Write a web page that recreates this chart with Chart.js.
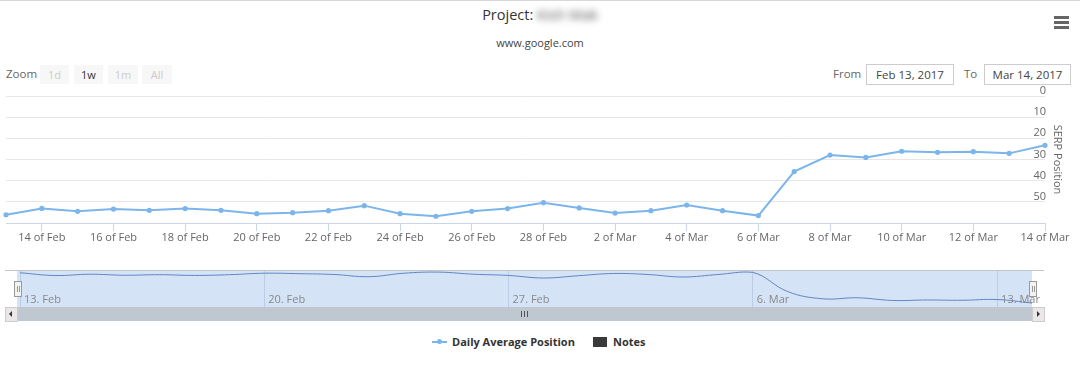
<!DOCTYPE html>
<html>
<head>
<meta charset="utf-8">
<script src="https://cdn.jsdelivr.net/npm/chart.js@4.4.0/dist/chart.umd.min.js"></script>
<style>
  body { margin: 0; width: 1080px; height: 370px; background: #fff; position: relative; overflow: hidden;
         font-family: "Open Sans", sans-serif; color: #333; }
  .abs { position: absolute; }
  #topline { left: 0; top: 0; width: 1080px; height: 1px; background: #d8d8d8; }
  #title { left: 0; width: 1080px; top: 5px; text-align: center; font-size: 14.5px; line-height: 20px; color: #333; }
  #title .blur { filter: blur(3.5px); color: #555; }
  #subtitle { left: 0; width: 1080px; top: 35px; text-align: center; font-size: 11px; line-height: 16px; color: #444; }
  #menu span { position: absolute; left: 1054px; width: 15px; height: 3px; background: #666; }
  .lbl { font-size: 11.5px; line-height: 20px; color: #666; top: 64px; }
  .btn { top: 65px; height: 19px; line-height: 19px; background: #f7f7f7; text-align: center; font-size: 11px; color: #ccc; }
  .inp { top: 64px; height: 19px; line-height: 19px; border: 1px solid #ccc; text-align: center; font-size: 11.5px; color: #444; }
  #navBg { left: 17px; top: 271px; width: 1015px; height: 36px; background: #d5e3f6; }
  #navOutline { left: 5px; top: 270px; width: 1039px; height: 1px; background: #c4c4c4; }
  .handle { top: 281px; width: 6px; height: 14px; background: #f2f2f2; border: 1px solid #999; }
  .handle i { position: absolute; top: 4px; width: 1px; height: 6px; background: #999; }
  #track { left: 5px; top: 307px; width: 1039px; height: 14px; background: #f2f2f2; }
  #thumb { left: 17px; top: 307px; width: 1015px; height: 14px; background: #bfc8d1; }
  .grip { top: 311px; width: 1px; height: 6px; background: #555; }
  .sbtn { top: 307px; width: 11px; height: 13px; background: #ebe7e8; border: 1px solid #ccc; }
  .legend-text { top: 334px; font-size: 11px; font-weight: bold; line-height: 16px; color: #333; }
</style>
</head>
<body>
<div id="topline" class="abs"></div>
<div id="title" class="abs">Project: <span class="blur">Kish Mak</span></div>
<div id="subtitle" class="abs">www.google.com</div>
<div id="menu">
  <span style="top:16px"></span><span style="top:21px"></span><span style="top:26px"></span>
</div>

<div class="abs lbl" style="left:6px">Zoom</div>
<div class="abs btn" style="left:40px;width:29px">1d</div>
<div class="abs btn" style="left:74px;width:29px;color:#333">1w</div>
<div class="abs btn" style="left:108px;width:30px">1m</div>
<div class="abs btn" style="left:142px;width:30px">All</div>

<div class="abs lbl" style="left:833px">From</div>
<div class="abs inp" style="left:866px;width:86px">Feb 13, 2017</div>
<div class="abs lbl" style="left:964px">To</div>
<div class="abs inp" style="left:984px;width:85px">Mar 14, 2017</div>

<canvas id="mainChart" class="abs" style="left:0;top:80px" width="1080" height="170"></canvas>

<div id="navBg" class="abs"></div>
<div id="navOutline" class="abs"></div>
<canvas id="navChart" class="abs" style="left:0;top:271px" width="1080" height="36"></canvas>
<div class="abs handle" style="left:14px"><i style="left:2px"></i><i style="left:4px"></i></div>
<div class="abs handle" style="left:1029px"><i style="left:2px"></i><i style="left:4px"></i></div>

<div id="track" class="abs"></div>
<div id="thumb" class="abs"></div>
<div class="abs grip" style="left:521px"></div>
<div class="abs grip" style="left:524px"></div>
<div class="abs grip" style="left:527px"></div>
<div class="abs sbtn" style="left:5px"></div>
<div class="abs sbtn" style="left:1032px"></div>
<div class="abs" style="left:9px;top:311px;width:0;height:0;border-top:3px solid transparent;border-bottom:3px solid transparent;border-right:3px solid #333"></div>
<div class="abs" style="left:1037px;top:311px;width:0;height:0;border-top:3px solid transparent;border-bottom:3px solid transparent;border-left:3px solid #333"></div>

<div class="abs" style="left:432px;top:341px;width:15px;height:2px;background:#7cb5ec"></div>
<div class="abs" style="left:437px;top:339px;width:5px;height:5px;border-radius:50%;background:#7cb5ec"></div>
<div class="abs legend-text" style="left:452px">Daily Average Position</div>
<div class="abs" style="left:593px;top:337px;width:14px;height:10px;background:#3a3a3a"></div>
<div class="abs legend-text" style="left:613px">Notes</div>

<script>
// days shown on the chart
const dates = [
  "13 Feb", "14 Feb", "15 Feb", "16 Feb", "17 Feb", "18 Feb", "19 Feb", "20 Feb",
  "21 Feb", "22 Feb", "23 Feb", "24 Feb", "25 Feb", "26 Feb", "27 Feb", "28 Feb",
  "1 Mar", "2 Mar", "3 Mar", "4 Mar", "5 Mar", "6 Mar", "7 Mar", "8 Mar",
  "9 Mar", "10 Mar", "11 Mar", "12 Mar", "13 Mar", "14 Mar"
];

// daily average SERP position
const positions = [
  56.1, 53.1, 54.5, 53.4, 54.0, 53.2, 54.0, 55.6,
  55.1, 54.2, 51.8, 55.6, 56.8, 54.5, 53.2, 50.4,
  52.9, 55.3, 54.2, 51.5, 54.2, 56.5, 35.7, 27.9,
  29.0, 26.1, 26.6, 26.3, 27.1, 23.3
];

const yTicks = [0, 10, 20, 30, 40, 50];

Chart.defaults.font.family = "'Open Sans', sans-serif";

// main chart
new Chart(document.getElementById("mainChart"), {
  type: "line",
  data: {
    labels: dates,
    datasets: [{
      label: "Daily Average Position",
      data: positions,
      borderColor: "#7cb5ec",
      backgroundColor: "#7cb5ec",
      borderWidth: 2,
      pointRadius: 1.6,
      tension: 0,
      clip: 4
    }]
  },
  options: {
    responsive: false,
    animation: false,
    layout: { padding: { left: 5, top: 16, right: 0, bottom: 0 } },
    plugins: { legend: { display: false }, tooltip: { enabled: false } },
    scales: {
      x: {
        grid: { drawOnChartArea: false, color: "#ccd6eb", tickLength: 8 },
        border: { color: "#ccd6eb" },
        ticks: {
          autoSkip: false, maxRotation: 0, color: "#666", font: { size: 11 }, padding: 0,
          callback: (v, i) => i % 2 === 1 ? dates[i].replace(" ", " of ") : null
        },
        afterFit: s => { s.height = 27; }
      },
      y: {
        position: "right",
        reverse: true,
        min: 0,
        max: 60,
        grid: { color: "#e6e6e6", drawTicks: false },
        border: { display: false },
        ticks: {
          stepSize: 10, mirror: true, padding: 1, labelOffset: -5, color: "#666", font: { size: 11 },
          callback: v => yTicks.includes(v) ? v : null
        },
        title: { display: true, text: "SERP Position", color: "#666", font: { size: 11 }, padding: { top: 16, bottom: 0 } },
        afterFit: s => { s.width = 35; }
      }
    }
  }
});

// navigator date labels sit inside the navigator band
const navLabels = {
  id: "navLabels",
  afterDraw(chart) {
    const { ctx, chartArea } = chart;
    const x = chart.scales.x;
    ctx.save();
    ctx.font = "11px 'Open Sans', sans-serif";
    ctx.fillStyle = "#888";
    ctx.textBaseline = "middle";
    dates.forEach((d, i) => {
      if (i % 7 === 0) ctx.fillText(d.replace(" ", ". "), x.getPixelForValue(i) + 4, chartArea.bottom - 7);
    });
    ctx.restore();
  }
};

// navigator
new Chart(document.getElementById("navChart"), {
  type: "line",
  data: {
    labels: dates,
    datasets: [{
      data: positions,
      borderColor: "#5f86c4",
      borderWidth: 1,
      pointRadius: 0,
      tension: 0.4,
      fill: false
    }]
  },
  options: {
    responsive: false,
    animation: false,
    layout: { padding: { left: 17, right: 48, top: 0, bottom: 0 } },
    plugins: { legend: { display: false }, tooltip: { enabled: false } },
    scales: {
      x: {
        grid: { color: "rgba(140,160,195,0.35)", drawTicks: false },
        border: { display: false },
        ticks: {
          autoSkip: false, maxRotation: 0, color: "rgba(0,0,0,0)", font: { size: 11 },
          callback: (v, i) => i % 7 === 0 ? dates[i] : null
        },
        afterFit: s => { s.height = 0; }
      },
      y: { display: false, min: 19, max: 58 }
    }
  },
  plugins: [navLabels]
});
</script>
</body>
</html>
